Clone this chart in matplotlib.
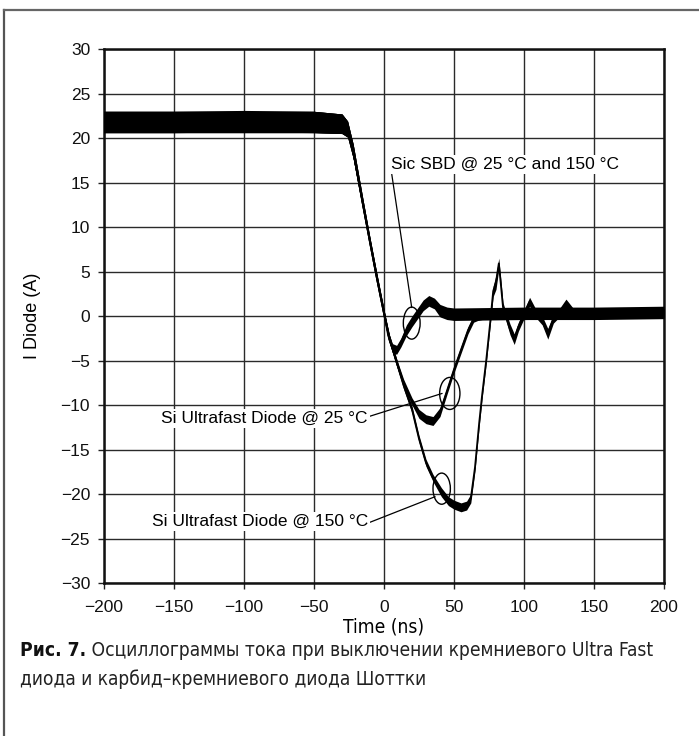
"""Diode turn-off current: Si ultrafast vs SiC Schottky (recreated figure)."""

import matplotlib
matplotlib.use("Agg")
import matplotlib.pyplot as plt
import numpy as np
from matplotlib import font_manager
from matplotlib.lines import Line2D
from matplotlib.patches import Ellipse

# --- data (time in ns, current in A, band = noise half-width) ---
sic_t = [-200, -150, -100, -50, -30, -26, -22, -15, -10, -5, 0, 3, 6, 9, 12, 16, 20, 24,
         28, 32, 36, 40, 45, 50, 100, 150, 200]
sic_i = [21.8, 21.8, 21.9, 21.8, 21.6, 21.0, 18.5, 12.5, 8.3, 4.2, 0.3, -2.2, -3.6, -3.8,
         -3.0, -1.6, -0.6, 0.3, 1.2, 1.7, 1.4, 0.6, 0.3, 0.2, 0.3, 0.3, 0.4]
sic_band = [1.2, 1.2, 1.2, 1.2, 1.1, 0.9, 0.8, 0.6, 0.5, 0.5, 0.5, 0.5, 0.5, 0.5,
            0.5, 0.6, 0.6, 0.6, 0.6, 0.6, 0.6, 0.7, 0.7, 0.7, 0.7, 0.7, 0.7]

si25_t = [-200, -50, -30, -26, -22, -15, -10, -5, 0, 4, 9, 14, 20, 25, 30, 35, 40, 45,
          50, 55, 60, 64, 67, 70, 80, 100, 150, 200]
si25_i = [21.8, 21.8, 21.6, 21.0, 18.5, 12.5, 8.3, 4.2, 0.3, -2.6, -5.2, -7.5, -9.6, -11.0,
          -11.6, -11.8, -10.8, -8.4, -6.0, -3.8, -1.6, -0.3, 0.0, 0.1, 0.2, 0.1, 0.2, 0.3]
si25_band = [1.2, 1.2, 1.1, 0.9, 0.8, 0.6, 0.5, 0.5, 0.4, 0.4, 0.4, 0.4, 0.4, 0.5,
             0.5, 0.5, 0.5, 0.4, 0.4, 0.4, 0.4, 0.4, 0.5, 0.5, 0.5, 0.5, 0.5, 0.5]

si150_t = [-200, -50, -30, -26, -22, -15, -10, -5, 0, 4, 9, 14, 20, 25, 30, 35, 41, 46,
           50, 55, 59, 62, 65, 68, 70, 73, 76, 78, 80, 82, 83.5, 85, 87, 90, 93, 96, 100,
           104, 108, 113, 117, 121, 126, 130, 135, 150, 200]
si150_i = [21.8, 21.8, 21.6, 21.0, 18.5, 12.5, 8.3, 4.2, 0.3, -2.6, -5.2, -7.8, -10.5,
           -13.8, -16.5, -18.2, -19.8, -20.8, -21.2, -21.5, -21.3, -20.5, -17.0, -12.0,
           -9.0, -5.0, -0.5, 2.8, 3.8, 5.9, 3.5, 1.0, 0.0, -1.5, -2.6, -1.2, 0.2, 1.6, 0.4,
           -0.5, -2.0, -0.3, 0.5, 1.4, 0.4, 0.2, 0.3]
si150_band = [1.2, 1.2, 1.1, 0.9, 0.8, 0.6, 0.5, 0.5, 0.4, 0.4, 0.4, 0.4, 0.4,
              0.4, 0.4, 0.4, 0.5, 0.5, 0.5, 0.5, 0.5, 0.5, 0.4, 0.4,
              0.4, 0.4, 0.4, 0.6, 0.8, 0.6, 0.6, 0.5, 0.5, 0.6, 0.6, 0.5, 0.5, 0.5, 0.5,
              0.5, 0.6, 0.5, 0.5, 0.5, 0.5, 0.5, 0.5]

x_ticks = [-200, -150, -100, -50, 0, 50, 100, 150, 200]
y_ticks = [-30, -25, -20, -15, -10, -5, 0, 5, 10, 15, 20, 25, 30]

label_sic = "Sic SBD @ 25 °C and 150 °C"
label_si25 = "Si Ultrafast Diode @ 25 °C"
label_si150 = "Si Ultrafast Diode @ 150 °C"
caption_bold = "Рис. 7."
caption_line1 = " Осциллограммы тока при выключении кремниевого Ultra Fast"
caption_line2 = "диода и карбид–кремниевого диода Шоттки"

# the caption uses a condensed face; use DejaVu Sans Condensed when the system has it
has_condensed = any(f.name == "DejaVu Sans" and f.stretch == "condensed"
                    for f in font_manager.fontManager.ttflist)
if has_condensed:
    cap_font = dict(family="DejaVu Sans", stretch="condensed", fontsize=13.8)
else:
    cap_font = dict(family="Liberation Sans", fontsize=14)

plt.rcParams["font.family"] = ["Liberation Sans", "DejaVu Sans"]

W, H = 699, 736
fig = plt.figure(figsize=(W / 100, H / 100), dpi=100)
ax = fig.add_axes([104 / W, 1 - 583 / H, 560 / W, 534 / H])

for t, i, band in [(sic_t, sic_i, sic_band), (si25_t, si25_i, si25_band),
                   (si150_t, si150_i, si150_band)]:
    t = np.asarray(t, float)
    i = np.asarray(i, float)
    band = np.asarray(band, float)
    ax.fill_between(t, i - band, i + band, color="black", lw=0, zorder=3)
    ax.plot(t, i, color="black", lw=1.3, zorder=3)

ax.set_xlim(-200, 200)
ax.set_ylim(-30, 30)
ax.set_xticks(x_ticks)
ax.set_yticks(y_ticks)
ax.grid(True, color="#2a2a2a", lw=1.0, zorder=1)
ax.set_axisbelow(True)
for sp in ax.spines.values():
    sp.set_linewidth(1.8)
    sp.set_color("#111111")
ax.tick_params(direction="out", length=4, width=1.0, color="#222222",
               labelsize=12.5, labelcolor="#111111")
ax.tick_params(axis="x", pad=8)
ax.tick_params(axis="y", pad=6)
ax.set_ylabel("I Diode (A)", fontsize=13, labelpad=14)
ax.set_xlabel("Time (ns)", labelpad=2, **cap_font)

# circled points on the traces with leader lines to the labels
for (cx, cy), w, h in [((19.8, -0.8), 12, 3.6), ((47, -8.7), 14.5, 3.6),
                       ((41.2, -19.4), 12.4, 3.5)]:
    ax.add_patch(Ellipse((cx, cy), w, h, fill=False, lw=1.0, color="black", zorder=4))

box = dict(fc="white", ec="none", pad=1.5)
arrow = dict(arrowstyle="-", lw=0.9, color="black", shrinkA=0, shrinkB=0)
ax.annotate(label_sic, xy=(19.8, 0.95), xytext=(5, 17), ha="left", va="center",
            fontsize=12.5, bbox=box, zorder=5,
            arrowprops=dict(arrow, relpos=(0, 0.2)))
ax.annotate(label_si25, xy=(41.5, -8.7), xytext=(-11.5, -11.5), ha="right", va="center",
            fontsize=12.5, bbox=box, zorder=5,
            arrowprops=dict(arrow, relpos=(1, 0.6)))
ax.annotate(label_si150, xy=(36.5, -20.3), xytext=(-11.5, -23.1), ha="right", va="center",
            fontsize=12.5, bbox=box, zorder=5,
            arrowprops=dict(arrow, relpos=(1, 0.4)))

# caption below the chart
t1 = fig.text(20 / W, 1 - 651 / H, caption_bold, weight="bold",
              va="center", ha="left", color="#111111", **cap_font)
ax.annotate(caption_line1, xy=(1, 0.5), xycoords=t1, va="center", ha="left",
            color="#222222", annotation_clip=False, **cap_font)
fig.text(20 / W, 1 - 679 / H, caption_line2, va="center", ha="left",
         color="#222222", **cap_font)

# frame of the figure panel (top and left edges only)
fig.add_artist(Line2D([4 / W, 4 / W], [0, 1 - 10 / H], color="#555555", lw=1.6))
fig.add_artist(Line2D([4 / W, 1], [1 - 10 / H, 1 - 10 / H], color="#666666", lw=1.6))

fig.savefig("out.png", dpi=100)
